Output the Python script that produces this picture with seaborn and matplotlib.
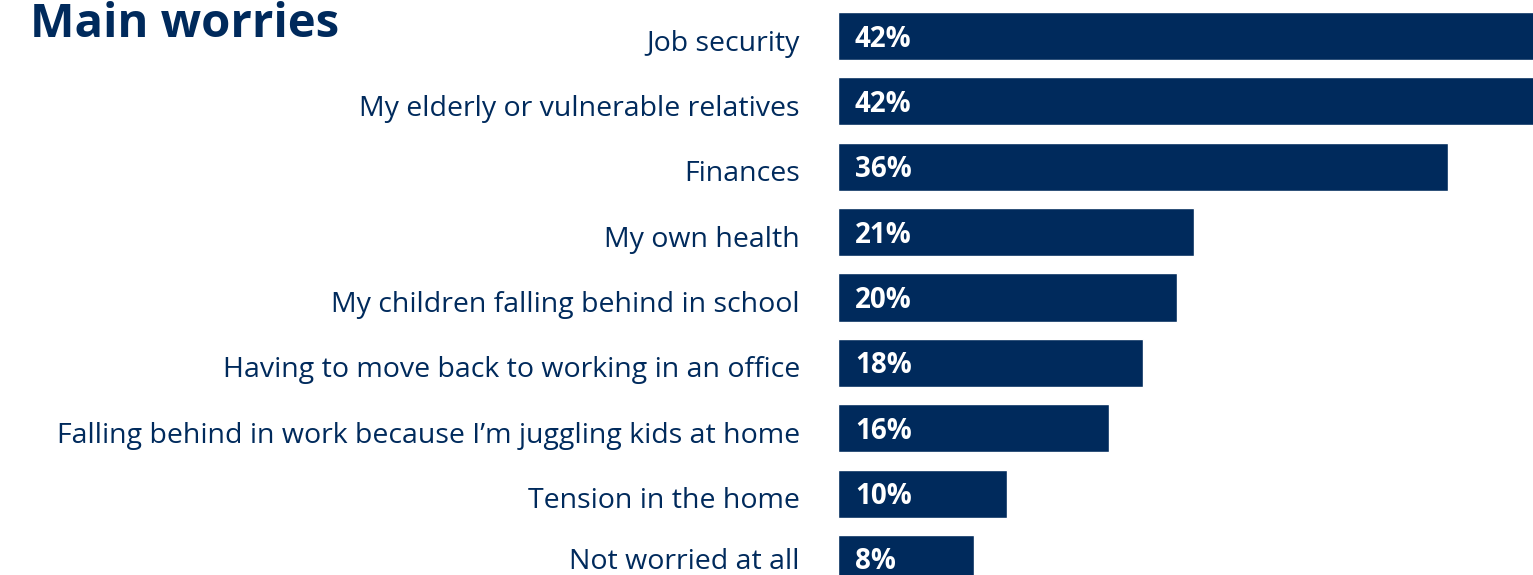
import matplotlib
matplotlib.use("Agg")
import matplotlib.pyplot as plt
import matplotlib.transforms as mtransforms
import seaborn as sns
import pandas as pd

categories = [
    "Job security",
    "My elderly or vulnerable relatives",
    "Finances",
    "My own health",
    "My children falling behind in school",
    "Having to move back to working in an office",
    "Falling behind in work because I\u2019m juggling kids at home",
    "Tension in the home",
    "Not worried at all",
]
values = [42, 42, 36, 21, 20, 18, 16, 10, 8]
value_labels = [f"{v}%" for v in values]
title = "Main worries"

NAVY = "#002a5c"

sns.set_theme(style="white")
plt.rcParams["font.family"] = ["Open Sans", "DejaVu Sans"]

df = pd.DataFrame({"worry": categories, "share": values})

W, H = 1533, 575
fig = plt.figure(figsize=(W / 100, H / 100), dpi=100)
ax = fig.add_axes([838 / W, 0, 1 - 838 / W, 1])

sns.barplot(data=df, x="share", y="worry", orient="h", color=NAVY,
            saturation=1, width=0.735, ax=ax)

ax.set_xlim(0, (W - 838) / 16.94)
ax.set_ylim(8.245, -0.551)
for s in ax.spines.values():
    s.set_visible(False)
ax.set_xticks([])
ax.set_xlabel("")
ax.set_ylabel("")
ax.tick_params(axis="y", length=0, pad=27.4, labelsize=20.5, labelcolor=NAVY)

# sit category labels a touch below the bar centre line,
# keeping the bottom one inside the canvas
labels = ax.get_yticklabels()
for k, lbl in enumerate(labels):
    dy = 4 if k < len(labels) - 1 else 0
    lbl.set_transform(lbl.get_transform()
                      + mtransforms.ScaledTranslation(0, -dy / 100, fig.dpi_scale_trans))

val_shift = mtransforms.ScaledTranslation(0, -3 / 100, fig.dpi_scale_trans)
for i, (v, lab) in enumerate(zip(values, value_labels)):
    ax.text(1.0, i, lab, color="white", fontsize=20, fontweight="bold",
            va="center", ha="left", transform=ax.transData + val_shift)

fig.text(30 / W, 1 - 37 / H, title, fontsize=34, fontweight="bold",
         color=NAVY, ha="left", va="baseline")

fig.savefig("out.png", dpi=100)
